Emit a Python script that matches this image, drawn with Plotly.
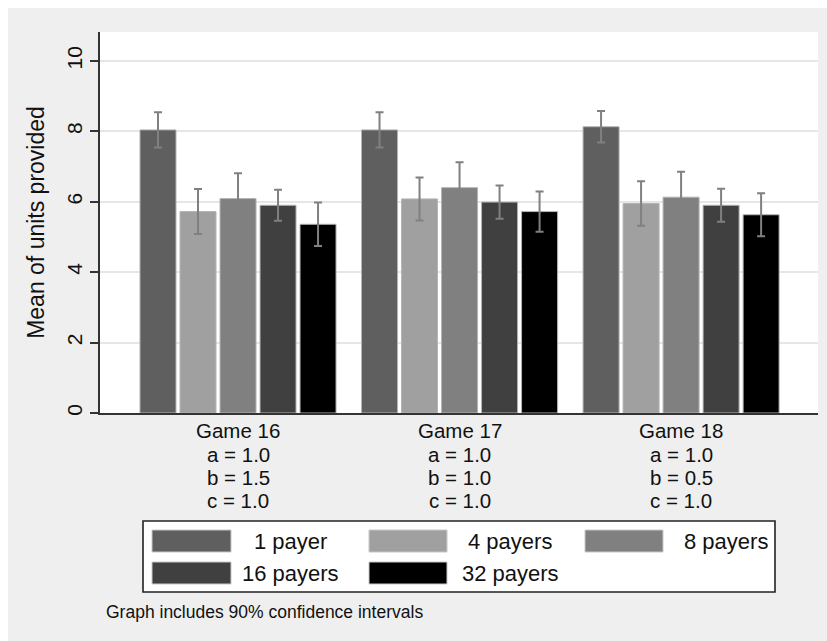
import plotly.graph_objects as go

# ---- data -------------------------------------------------------------
games = ["Game 16", "Game 17", "Game 18"]
param_a = ["a = 1.0", "a = 1.0", "a = 1.0"]
param_b = ["b = 1.5", "b = 1.0", "b = 0.5"]
param_c = ["c = 1.0", "c = 1.0", "c = 1.0"]

groups = ["1 payer", "4 payers", "8 payers", "16 payers", "32 payers"]
colors = ["#5f5f5f", "#a0a0a0", "#808080", "#404040", "#000000"]

mean_1 = [8.04, 8.04, 8.13]
mean_4 = [5.72, 6.08, 5.95]
mean_8 = [6.09, 6.40, 6.13]
mean_16 = [5.90, 5.99, 5.90]
mean_32 = [5.36, 5.72, 5.63]

ci_1 = [0.50, 0.50, 0.45]
ci_4 = [0.64, 0.61, 0.63]
ci_8 = [0.72, 0.72, 0.72]
ci_16 = [0.44, 0.47, 0.47]
ci_32 = [0.62, 0.57, 0.61]

means = [mean_1, mean_4, mean_8, mean_16, mean_32]
cis = [ci_1, ci_4, ci_8, ci_16, ci_32]

y_ticks = [0, 2, 4, 6, 8, 10]
y_title = "Mean of units provided"
note = "Graph includes 90% confidence intervals"

# ---- geometry ---------------------------------------------------------
W, H = 827, 641
ML, MR, MT, MB = 100, 9, 32, 228
PW, PH = W - ML - MR, H - MT - MB
FONT = "Liberation Sans, Arial, sans-serif"
BG = "#efefef"
TXT = "#111111"


def px(x):
    return (x - ML) / PW


def py(y):
    return (H - MB - y) / PH


fig = go.Figure()
xpos = list(range(len(games)))
for name, col, m, e in zip(groups, colors, means, cis):
    fig.add_trace(go.Bar(
        x=xpos, y=m, name=name,
        marker=dict(color=col, line=dict(color="#b4b4b4", width=1)),
        error_y=dict(type="data", array=e, visible=True,
                     color="#808080", thickness=2, width=4),
        showlegend=False,
    ))

shapes = [
    # white page margin around the grey graph region
    dict(type="rect", xref="paper", yref="paper", layer="below",
         x0=px(0), x1=px(W), y0=py(0), y1=py(H),
         fillcolor="white", line=dict(width=0)),
    dict(type="rect", xref="paper", yref="paper", layer="below",
         x0=px(8), x1=px(W), y0=py(8), y1=py(H),
         fillcolor=BG, line=dict(width=0)),
    dict(type="rect", xref="paper", yref="paper", layer="below",
         x0=0, x1=1, y0=0, y1=1, fillcolor="white", line=dict(width=0)),
    # legend box
    dict(type="rect", xref="paper", yref="paper",
         x0=px(143), x1=px(775), y0=py(521), y1=py(592),
         fillcolor="white", line=dict(color="#222222", width=1.6)),
]

annotations = []
# category labels under each group, tightly stacked lines
LINE = 23
for i, lines in enumerate(zip(games, param_a, param_b, param_c)):
    for j, t in enumerate(lines):
        annotations.append(dict(
            x=xpos[i], xref="x", y=py(431 + LINE * j), yref="paper",
            text=t, showarrow=False, xanchor="center", yanchor="middle",
            font=dict(family=FONT, size=20.5, color=TXT)))

# legend entries: three columns, two rows
sw_x = [(152, 231), (369, 447), (585, 663)]
txt_x = [290, 510, 726]
row_y = [(530, 552), (562, 584)]
for k, (name, col) in enumerate(zip(groups, colors)):
    r, c = divmod(k, 3)
    x0, x1 = sw_x[c]
    y0, y1 = row_y[r]
    shapes.append(dict(type="rect", xref="paper", yref="paper",
                       x0=px(x0), x1=px(x1), y0=py(y1), y1=py(y0),
                       fillcolor=col, line=dict(color="#c8c8c8", width=1)))
    annotations.append(dict(
        x=px(txt_x[c]), xref="paper", y=py((y0 + y1) / 2), yref="paper",
        text=name, showarrow=False, xanchor="center", yanchor="middle",
        font=dict(family=FONT, size=22, color=TXT)))

annotations.append(dict(
    x=px(104), xref="paper", y=py(612), yref="paper", text=note,
    showarrow=False, xanchor="left", yanchor="middle",
    font=dict(family=FONT, size=17.5, color=TXT)))

fig.update_layout(
    width=W, height=H,
    margin=dict(l=ML, r=MR, t=MT, b=MB, pad=0),
    paper_bgcolor="white", plot_bgcolor="white",
    barmode="group", bargap=0.097, bargroupgap=0.1,
    shapes=shapes, annotations=annotations,
    font=dict(family=FONT, size=21, color=TXT),
)
fig.update_xaxes(
    range=[-0.623, 2.618], tickvals=xpos, showticklabels=False,
    showgrid=False, zeroline=False, showline=True,
    linecolor="#333333", linewidth=1.5, ticks="",
)
fig.update_yaxes(
    range=[0, 10.82], tickvals=y_ticks, tickangle=-90,
    ticks="outside", ticklen=8, tickwidth=1.5, tickcolor="#333333",
    showline=True, linecolor="#333333", linewidth=1.5,
    showgrid=True, gridcolor="#e6e6e6", gridwidth=1.5, zeroline=False,
    tickfont=dict(family=FONT, size=21, color=TXT),
    title=dict(text=y_title, standoff=12,
               font=dict(family=FONT, size=23, color=TXT)),
)

fig.write_html("out.html")
